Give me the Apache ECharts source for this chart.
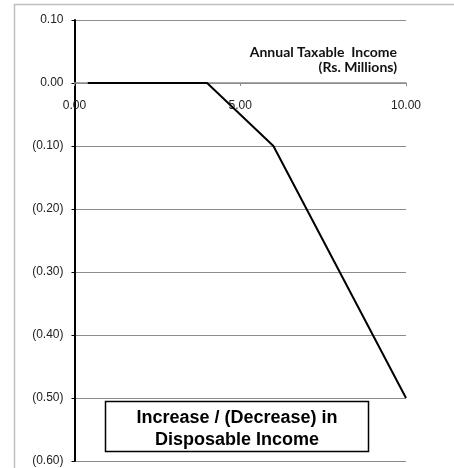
<!DOCTYPE html>
<html>
<head>
<meta charset="utf-8">
<script src="https://cdn.jsdelivr.net/npm/echarts@6/dist/echarts.min.js"></script>
<style>
html,body{margin:0;padding:0;background:#fff;}
#c{width:454px;height:468px;}
</style>
</head>
<body>
<div id="c"></div>
<script>
// Annual taxable income (Rs. millions)
var incomeX = [0.4, 4.0, 6.0, 10.0];
// Increase / (Decrease) in disposable income
var changeY = [0.0, 0.0, -0.10, -0.50];
var xTicks = [0, 5, 10];
var yTicks = [0.1, 0, -0.1, -0.2, -0.3, -0.4, -0.5, -0.6];
var axisTitle = ['Annual Taxable  Income', '(Rs. Millions)'];
var boxTitle = ['Increase / (Decrease) in', 'Disposable Income'];

var chart = echarts.init(document.getElementById('c'), null, {renderer: 'canvas'});

function fmtY(v) {
  var a = Math.abs(v).toFixed(2);
  return v < -1e-9 ? '(' + a + ')' : a;
}

var gridTop = 20;

var option = {
  animation: false,
  backgroundColor: '#fff',
  grid: {left: 74.5, right: 48, top: gridTop, bottom: 7, containLabel: false, outerBoundsMode: 'none'},
  xAxis: {
    type: 'value',
    position: 'top',
    offset: 0,
    min: xTicks[0], max: xTicks[xTicks.length - 1], interval: 5,
    axisLine: {onZero: false, lineStyle: {color: '#8c8c8c', width: 1.5}},
    axisTick: {show: true, inside: true, length: 3, lineStyle: {color: '#8c8c8c', width: 1}},
    axisLabel: {
      inside: true,
      margin: 17, color: '#222', fontFamily: 'Liberation Sans', fontSize: 12,
      formatter: function (v) { return v.toFixed(2); }
    },
    splitLine: {show: false}
  },
  yAxis: {
    type: 'value',
    min: yTicks[yTicks.length - 1], max: yTicks[0], interval: 0.1,
    axisLine: {show: true, onZero: false, lineStyle: {color: '#000', width: 2}},
    axisTick: {show: true, inside: false, length: 3, lineStyle: {color: '#000', width: 1}},
    axisLabel: {
      margin: 11, color: '#222', fontFamily: 'Liberation Sans', fontSize: 12,
      formatter: function (v) { return fmtY(Math.round(v * 100) / 100); }
    },
    splitLine: {show: true, lineStyle: {color: '#8c8c8c', width: 1}}
  },
  series: [{
    type: 'line',
    data: incomeX.map(function (x, i) { return [x, changeY[i]]; }),
    showSymbol: false,
    symbol: 'none',
    lineStyle: {color: '#000', width: 2},
    z: 5
  }],
  graphic: [
    {
      type: 'rect', silent: true, z: -1,
      shape: {x: 14.5, y: 4.5, width: 460, height: 480},
      style: {fill: 'none', stroke: '#bfbfbf', lineWidth: 1.5}
    },
    {
      type: 'text', z: 10,
      style: {
        x: 397, y: 52.5, text: axisTitle[0], align: 'right', verticalAlign: 'middle',
        fontFamily: 'Lato', fontWeight: 'bold', fontSize: 14, fill: '#111'
      }
    },
    {
      type: 'text', z: 10,
      style: {
        x: 397, y: 67, text: axisTitle[1], align: 'right', verticalAlign: 'middle',
        fontFamily: 'Lato', fontWeight: 'bold', fontSize: 14, fill: '#111'
      }
    },
    {
      type: 'rect', z: 10,
      shape: {x: 105.5, y: 401.5, width: 263, height: 50},
      style: {fill: '#fff', stroke: '#000', lineWidth: 1.5}
    },
    {
      type: 'text', z: 11,
      style: {
        x: 237, y: 418, text: boxTitle[0], align: 'center', verticalAlign: 'middle',
        fontFamily: 'Liberation Sans', fontWeight: 'bold', fontSize: 18, fill: '#000'
      }
    },
    {
      type: 'text', z: 11,
      style: {
        x: 237, y: 440, text: boxTitle[1], align: 'center', verticalAlign: 'middle',
        fontFamily: 'Liberation Sans', fontWeight: 'bold', fontSize: 18, fill: '#000'
      }
    }
  ]
};
chart.setOption(option);
// place the x axis on the y = 0 line, using the library's own scale
var zeroY = chart.convertToPixel({yAxisIndex: 0}, 0);
chart.setOption({xAxis: {offset: -(zeroY - gridTop)}});
</script>
</body>
</html>
